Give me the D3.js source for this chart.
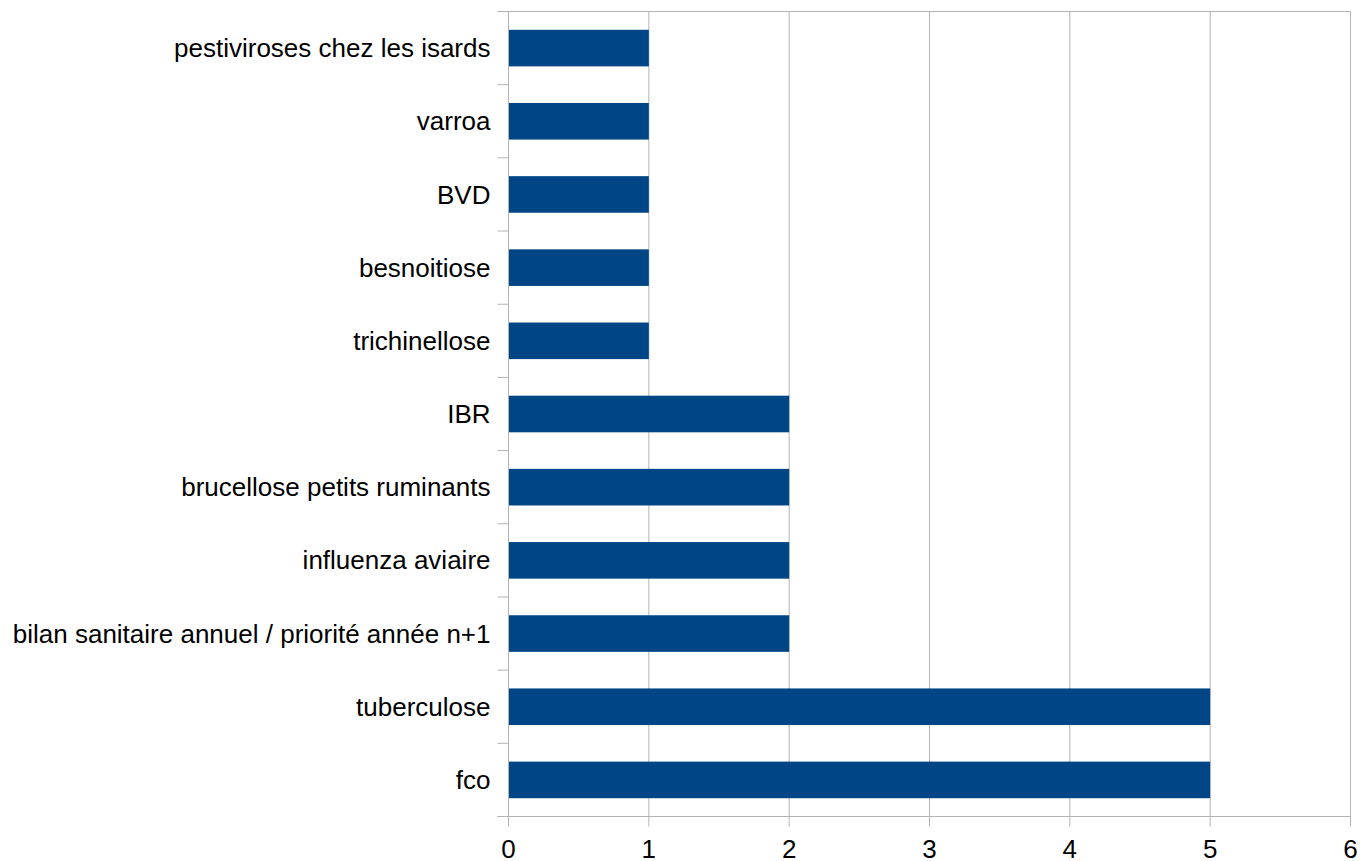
<!DOCTYPE html>
<html><head><meta charset="utf-8">
<script src="https://cdn.jsdelivr.net/npm/d3@7"></script>
<style>body{margin:0;background:#fff}svg{display:block}</style>
</head><body>
<svg id="c" width="1360" height="861"></svg>
<script>
const categories = ["pestiviroses chez les isards","varroa","BVD","besnoitiose","trichinellose","IBR","brucellose petits ruminants","influenza aviaire","bilan sanitaire annuel / priorité année n+1","tuberculose","fco"];
const values = [1,1,1,1,1,2,2,2,2,5,5];
const xTicks = [0,1,2,3,4,5,6];

const svg = d3.select("#c");
const L = 508.5, R = 1350.5, T = 11.5, B = 816.5;
const x = d3.scaleLinear().domain([0,6]).range([L,R]);
const y = d3.scaleBand().domain(categories).range([T,B]).paddingInner(0.5).paddingOuter(0.25);
const font = "'Liberation Sans', Arial, sans-serif";
const grid = "#b3b3b3";
const fs = 26;

svg.append("g").selectAll("line").data(xTicks.slice(1)).join("line")
  .attr("x1", d=>x(d)).attr("x2", d=>x(d)).attr("y1", T).attr("y2", B)
  .attr("stroke", grid).attr("stroke-width", 1);

svg.append("line").attr("x1", L-11).attr("x2", R).attr("y1", T).attr("y2", T).attr("stroke", grid);

svg.append("g").selectAll("rect").data(categories).join("rect")
  .attr("x", x(0)).attr("y", d=>y(d))
  .attr("width", (d,i)=>x(values[i])-x(0)).attr("height", y.bandwidth())
  .attr("fill", "#004586");

const step = y.step();
const bounds = d3.range(categories.length+1).map(i => T + i*step);
svg.append("line").attr("x1", L).attr("x2", L).attr("y1", T).attr("y2", B).attr("stroke", grid);
svg.append("g").selectAll("line").data(bounds).join("line")
  .attr("x1", L-11).attr("x2", L).attr("y1", d=>d).attr("y2", d=>d).attr("stroke", grid);
svg.append("g").selectAll("text").data(categories).join("text")
  .attr("x", L-18).attr("y", d=>y(d)+y.bandwidth()/2).attr("dy","0.35em")
  .attr("text-anchor","end").attr("font-family",font).attr("font-size",fs).attr("fill","#000")
  .text(d=>d);

svg.append("line").attr("x1", L-11).attr("x2", R).attr("y1", B).attr("y2", B).attr("stroke", grid);
svg.append("g").selectAll("line").data(xTicks).join("line")
  .attr("x1", d=>x(d)).attr("x2", d=>x(d)).attr("y1", B).attr("y2", B+10).attr("stroke", grid);
svg.append("g").selectAll("text").data(xTicks).join("text")
  .attr("x", d=>x(d)).attr("y", 858).attr("text-anchor","middle")
  .attr("font-family",font).attr("font-size",fs).attr("fill","#000").text(d=>d);
</script>
</body></html>
